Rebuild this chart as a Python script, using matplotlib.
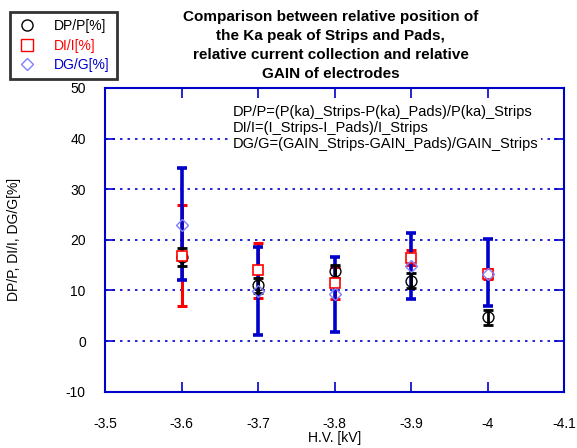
import matplotlib
matplotlib.use('Agg')
import matplotlib.pyplot as plt
from matplotlib.lines import Line2D

plt.rcParams['font.family'] = ['Liberation Sans', 'DejaVu Sans']
plt.rcParams['axes.unicode_minus'] = False

hv = [-3.6, -3.7, -3.8, -3.9, -4.0]

dp = [16.6, 11.0, 13.8, 11.9, 4.7]
dp_err = [1.7, 1.5, 1.3, 1.5, 1.5]

di = [16.9, 14.0, 11.5, 16.5, 13.2]
di_err = [10.0, 5.4, 3.1, 1.5, 1.0]

dg = [23.0, 9.9, 9.2, 14.9, 13.3]
dg_lo = [11.0, 8.8, 7.5, 6.5, 6.3]
dg_hi = [11.2, 8.7, 7.5, 6.5, 6.9]

xticks = [-3.5, -3.6, -3.7, -3.8, -3.9, -4.0, -4.1]
xticklabels = ['-3.5', '-3.6', '-3.7', '-3.8', '-3.9', '-4', '-4.1']
yticks = [-10, 0, 10, 20, 30, 40, 50]

AX_BLUE = '#0000cc'

fig = plt.figure(figsize=(5.77, 4.48), dpi=100)
ax = fig.add_axes([0.1825, 0.1257, 0.7955, 0.678])

# error bars: red under blue, black on top
ax.errorbar(hv, di, yerr=di_err, fmt='none', ecolor='#ff0000', elinewidth=2.2,
            capsize=3.5, capthick=2.2, zorder=2)
ax.errorbar(hv, dg, yerr=[dg_lo, dg_hi], fmt='none', ecolor='#0000cc', elinewidth=2.6,
            capsize=3.5, capthick=2.6, zorder=3)
ax.errorbar(hv, dp, yerr=dp_err, fmt='none', ecolor='black', elinewidth=2.0,
            capsize=3.5, capthick=2.0, zorder=4)

ax.plot(hv, dp, 'o', ms=7.8, mfc='none', mec='black', mew=1.0, zorder=5)
ax.plot(hv, di, 's', ms=7.2, mfc='white', mec='#ff0000', mew=1.2, zorder=6)
ax.plot(hv, dg, 'D', ms=6.5, mfc='none', mec='#8080ff', mew=1.0, zorder=7)

ax.set_xlim(-3.5, -4.1)
ax.set_ylim(-10, 50)
ax.set_xticks(xticks)
ax.set_xticklabels(xticklabels)
ax.set_yticks(yticks)

for y in [0, 10, 20, 30, 40]:
    ax.axhline(y, color=AX_BLUE, lw=1.2, ls=(0, (1.5, 3)), zorder=1)

for s in ax.spines.values():
    s.set_color(AX_BLUE)
    s.set_linewidth(1.5)
ax.tick_params(axis='both', direction='in', color=AX_BLUE, length=7, width=1.2,
               top=True, right=True, labelsize=10)
ax.tick_params(axis='x', pad=18)
ax.tick_params(axis='y', pad=14)

ax.set_xlabel('H.V. [kV]', fontsize=10, labelpad=0)
ax.set_ylabel('DP/P, DI/I, DG/G[%]', fontsize=10, labelpad=32)

ax.text(0.278, 0.945,
        'DP/P=(P(ka)_Strips-P(ka)_Pads)/P(ka)_Strips\n'
        'DI/I=(I_Strips-I_Pads)/I_Strips\n'
        'DG/G=(GAIN_Strips-GAIN_Pads)/GAIN_Strips',
        transform=ax.transAxes, ha='left', va='top', fontsize=10.5,
        linespacing=1.2, zorder=8,
        bbox=dict(facecolor='white', edgecolor='none', pad=2))

fig.text(0.573, 0.978,
         'Comparison between relative position of\n'
         'the Ka peak of Strips and Pads,\n'
         'relative current collection and relative\n'
         'GAIN of electrodes',
         ha='center', va='top', fontsize=11, fontweight='bold', linespacing=1.45)

handles = [
    Line2D([], [], ls='none', marker='o', ms=8, mfc='none', mec='black'),
    Line2D([], [], ls='none', marker='s', ms=8, mfc='none', mec='#ff0000'),
    Line2D([], [], ls='none', marker='D', ms=6.5, mfc='none', mec='#8080ff'),
]
leg = fig.legend(handles, ['DP/P[%]', 'DI/I[%]', 'DG/G[%]'],
                 loc='upper left', bbox_to_anchor=(0.017, 0.973),
                 borderaxespad=0, frameon=True, fancybox=False, fontsize=10,
                 handlelength=1.5, handletextpad=1.2, borderpad=0.5,
                 labelspacing=0.4)
leg.get_frame().set_edgecolor('black')
leg.get_frame().set_linewidth(2)
for t, c in zip(leg.get_texts(), ['black', '#ff0000', '#0000cc']):
    t.set_color(c)

fig.savefig('out.png', dpi=100)
